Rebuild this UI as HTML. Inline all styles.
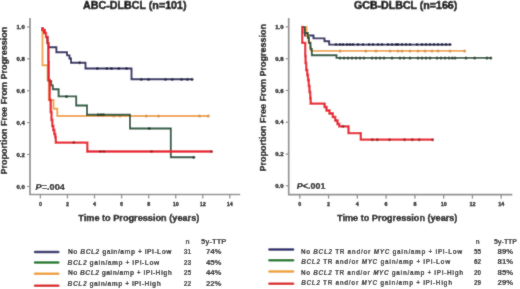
<!DOCTYPE html>
<html><head><meta charset="utf-8"><style>
html,body{margin:0;padding:0;background:#fff;width:520px;height:289px;overflow:hidden}
svg{display:block}
svg text{font-family:"Liberation Sans",sans-serif;stroke:#000;stroke-width:0.3px}
svg .lg text{stroke-width:0.05px}
svg text.tk{stroke-width:0.3px}
</style></head><body>
<svg width="520" height="289" viewBox="0 0 520 289">
<defs><filter id="bl" x="0" y="0" width="1" height="1"><feConvolveMatrix order="3" kernelMatrix="1 2 1 2 20 2 1 2 1" divisor="32" edgeMode="duplicate"/></filter></defs>
<rect width="520" height="289" fill="#fff"/>
<g filter="url(#bl)">
<rect width="520" height="289" fill="#fff"/>
<path d="M30,18 V194.5 H240.2" fill="none" stroke="#8e8e8e" stroke-width="1.7"/>
<line x1="27" y1="26.9" x2="30" y2="26.9" stroke="#8e8e8e" stroke-width="1.2"/>
<text x="24.8" y="29.0" font-size="6" font-weight="bold" text-anchor="end" fill="#000">1.0</text>
<line x1="27" y1="58.8" x2="30" y2="58.8" stroke="#8e8e8e" stroke-width="1.2"/>
<text x="24.8" y="60.9" font-size="6" font-weight="bold" text-anchor="end" fill="#000">0.8</text>
<line x1="27" y1="90.7" x2="30" y2="90.7" stroke="#8e8e8e" stroke-width="1.2"/>
<text x="24.8" y="92.8" font-size="6" font-weight="bold" text-anchor="end" fill="#000">0.6</text>
<line x1="27" y1="122.6" x2="30" y2="122.6" stroke="#8e8e8e" stroke-width="1.2"/>
<text x="24.8" y="124.69999999999999" font-size="6" font-weight="bold" text-anchor="end" fill="#000">0.4</text>
<line x1="27" y1="154.5" x2="30" y2="154.5" stroke="#8e8e8e" stroke-width="1.2"/>
<text x="24.8" y="156.6" font-size="6" font-weight="bold" text-anchor="end" fill="#000">0.2</text>
<line x1="27" y1="186.5" x2="30" y2="186.5" stroke="#8e8e8e" stroke-width="1.2"/>
<text x="24.8" y="188.6" font-size="6" font-weight="bold" text-anchor="end" fill="#000">0.0</text>
<line x1="40.4" y1="194.5" x2="40.4" y2="198.5" stroke="#8e8e8e" stroke-width="1.3"/>
<text x="40.4" y="205.5" font-size="5.4" font-weight="bold" text-anchor="middle" fill="#111" class="tk">0</text>
<line x1="67.46" y1="194.5" x2="67.46" y2="198.5" stroke="#8e8e8e" stroke-width="1.3"/>
<text x="67.46" y="205.5" font-size="5.4" font-weight="bold" text-anchor="middle" fill="#111" class="tk">2</text>
<line x1="94.52" y1="194.5" x2="94.52" y2="198.5" stroke="#8e8e8e" stroke-width="1.3"/>
<text x="94.52" y="205.5" font-size="5.4" font-weight="bold" text-anchor="middle" fill="#111" class="tk">4</text>
<line x1="121.57999999999998" y1="194.5" x2="121.57999999999998" y2="198.5" stroke="#8e8e8e" stroke-width="1.3"/>
<text x="121.57999999999998" y="205.5" font-size="5.4" font-weight="bold" text-anchor="middle" fill="#111" class="tk">6</text>
<line x1="148.64" y1="194.5" x2="148.64" y2="198.5" stroke="#8e8e8e" stroke-width="1.3"/>
<text x="148.64" y="205.5" font-size="5.4" font-weight="bold" text-anchor="middle" fill="#111" class="tk">8</text>
<line x1="175.7" y1="194.5" x2="175.7" y2="198.5" stroke="#8e8e8e" stroke-width="1.3"/>
<text x="175.7" y="205.5" font-size="5.4" font-weight="bold" text-anchor="middle" fill="#111" class="tk">10</text>
<line x1="202.76" y1="194.5" x2="202.76" y2="198.5" stroke="#8e8e8e" stroke-width="1.3"/>
<text x="202.76" y="205.5" font-size="5.4" font-weight="bold" text-anchor="middle" fill="#111" class="tk">12</text>
<line x1="229.82" y1="194.5" x2="229.82" y2="198.5" stroke="#8e8e8e" stroke-width="1.3"/>
<text x="229.82" y="205.5" font-size="5.4" font-weight="bold" text-anchor="middle" fill="#111" class="tk">14</text>
<path d="M288.7,18 V194.7 H512.3" fill="none" stroke="#8e8e8e" stroke-width="1.7"/>
<line x1="285.7" y1="26.9" x2="288.7" y2="26.9" stroke="#8e8e8e" stroke-width="1.2"/>
<text x="283.5" y="29.0" font-size="6" font-weight="bold" text-anchor="end" fill="#000">1.0</text>
<line x1="285.7" y1="58.7" x2="288.7" y2="58.7" stroke="#8e8e8e" stroke-width="1.2"/>
<text x="283.5" y="60.800000000000004" font-size="6" font-weight="bold" text-anchor="end" fill="#000">0.8</text>
<line x1="285.7" y1="90.5" x2="288.7" y2="90.5" stroke="#8e8e8e" stroke-width="1.2"/>
<text x="283.5" y="92.6" font-size="6" font-weight="bold" text-anchor="end" fill="#000">0.6</text>
<line x1="285.7" y1="122.3" x2="288.7" y2="122.3" stroke="#8e8e8e" stroke-width="1.2"/>
<text x="283.5" y="124.39999999999999" font-size="6" font-weight="bold" text-anchor="end" fill="#000">0.4</text>
<line x1="285.7" y1="154.1" x2="288.7" y2="154.1" stroke="#8e8e8e" stroke-width="1.2"/>
<text x="283.5" y="156.2" font-size="6" font-weight="bold" text-anchor="end" fill="#000">0.2</text>
<line x1="285.7" y1="185.8" x2="288.7" y2="185.8" stroke="#8e8e8e" stroke-width="1.2"/>
<text x="283.5" y="187.9" font-size="6" font-weight="bold" text-anchor="end" fill="#000">0.0</text>
<line x1="299.8" y1="194.7" x2="299.8" y2="198.7" stroke="#8e8e8e" stroke-width="1.3"/>
<text x="299.8" y="205.5" font-size="5.4" font-weight="bold" text-anchor="middle" fill="#111" class="tk">0</text>
<line x1="328.57" y1="194.7" x2="328.57" y2="198.7" stroke="#8e8e8e" stroke-width="1.3"/>
<text x="328.57" y="205.5" font-size="5.4" font-weight="bold" text-anchor="middle" fill="#111" class="tk">2</text>
<line x1="357.34000000000003" y1="194.7" x2="357.34000000000003" y2="198.7" stroke="#8e8e8e" stroke-width="1.3"/>
<text x="357.34000000000003" y="205.5" font-size="5.4" font-weight="bold" text-anchor="middle" fill="#111" class="tk">4</text>
<line x1="386.11" y1="194.7" x2="386.11" y2="198.7" stroke="#8e8e8e" stroke-width="1.3"/>
<text x="386.11" y="205.5" font-size="5.4" font-weight="bold" text-anchor="middle" fill="#111" class="tk">6</text>
<line x1="414.88" y1="194.7" x2="414.88" y2="198.7" stroke="#8e8e8e" stroke-width="1.3"/>
<text x="414.88" y="205.5" font-size="5.4" font-weight="bold" text-anchor="middle" fill="#111" class="tk">8</text>
<line x1="443.65" y1="194.7" x2="443.65" y2="198.7" stroke="#8e8e8e" stroke-width="1.3"/>
<text x="443.65" y="205.5" font-size="5.4" font-weight="bold" text-anchor="middle" fill="#111" class="tk">10</text>
<line x1="472.42" y1="194.7" x2="472.42" y2="198.7" stroke="#8e8e8e" stroke-width="1.3"/>
<text x="472.42" y="205.5" font-size="5.4" font-weight="bold" text-anchor="middle" fill="#111" class="tk">12</text>
<line x1="501.19" y1="194.7" x2="501.19" y2="198.7" stroke="#8e8e8e" stroke-width="1.3"/>
<text x="501.19" y="205.5" font-size="5.4" font-weight="bold" text-anchor="middle" fill="#111" class="tk">14</text>
<path d="M42.5,27 V65.3 H47.6 V80 H48.8 V100 H53.5 V108.7 H57.3 V116 H209.2" fill="none" stroke="#f0a445" stroke-width="1.9" stroke-linejoin="miter"/>
<circle cx="113.8" cy="116" r="1.5" fill="#d8933e"/>
<circle cx="120" cy="116" r="1.5" fill="#d8933e"/>
<circle cx="146.2" cy="116" r="1.5" fill="#d8933e"/>
<circle cx="158.5" cy="116" r="1.5" fill="#d8933e"/>
<circle cx="199.5" cy="116" r="1.5" fill="#d8933e"/>
<circle cx="208.2" cy="116" r="1.5" fill="#d8933e"/>
<path d="M42.5,27 V30 H44.5 V33 H46 V37 H47.5 V43 H48.3 V62 H48.6 V81 H51.2 V85.4 H52.8 V89.2 H58.6 V96.4 H76.2 V105.5 H87 V114.8 H130 V128.5 H170.8 V157.3 H193.8" fill="none" stroke="#1d5236" stroke-width="1.9" stroke-linejoin="miter"/>
<circle cx="66.5" cy="96.4" r="1.5" fill="#143b26"/>
<circle cx="98.2" cy="114.8" r="1.5" fill="#143b26"/>
<circle cx="101" cy="114.8" r="1.5" fill="#143b26"/>
<circle cx="103.5" cy="114.8" r="1.5" fill="#143b26"/>
<circle cx="149.2" cy="128.5" r="1.5" fill="#143b26"/>
<circle cx="193.8" cy="157.3" r="1.5" fill="#143b26"/>
<path d="M42.5,27 V30 H44.5 V33 H46 V37 H47.5 V43 H48.3 V47.3 H56.4 V52.3 H67 V55.4 H69.5 V58.5 H71 V62.8 H85.5 V68.5 H131.5 V79.2 H193" fill="none" stroke="#22215c" stroke-width="1.9" stroke-linejoin="miter"/>
<circle cx="79.6" cy="62.8" r="1.5" fill="#181742"/>
<circle cx="97.3" cy="68.5" r="1.5" fill="#181742"/>
<circle cx="106.9" cy="68.5" r="1.5" fill="#181742"/>
<circle cx="111.5" cy="68.5" r="1.5" fill="#181742"/>
<circle cx="118.8" cy="68.5" r="1.5" fill="#181742"/>
<circle cx="126.5" cy="68.5" r="1.5" fill="#181742"/>
<circle cx="141.2" cy="79.2" r="1.5" fill="#181742"/>
<circle cx="148.5" cy="79.2" r="1.5" fill="#181742"/>
<circle cx="165.4" cy="79.2" r="1.5" fill="#181742"/>
<circle cx="172.2" cy="79.2" r="1.5" fill="#181742"/>
<circle cx="181.5" cy="79.2" r="1.5" fill="#181742"/>
<circle cx="187.4" cy="79.2" r="1.5" fill="#181742"/>
<circle cx="192" cy="79.2" r="1.5" fill="#181742"/>
<path d="M42.5,27 V30 H44.5 V33 H46 V37 H47.5 V43 H48.3 V62 H48.7 V80 H49.7 V100 H50.7 V112 H51.5 V120 H52.3 V126 H53.3 V130 H54.3 V134 H55.2 V137 H55.8 V142.6 H87.3 V151.5 H211.5" fill="none" stroke="#e8222e" stroke-width="2.3" stroke-linejoin="miter"/>
<circle cx="73.8" cy="142.6" r="1.5" fill="#a71821"/>
<circle cx="100.4" cy="151.5" r="1.5" fill="#a71821"/>
<circle cx="103.9" cy="151.5" r="1.5" fill="#a71821"/>
<circle cx="151.5" cy="151.5" r="1.5" fill="#a71821"/>
<circle cx="211.5" cy="151.5" r="1.5" fill="#a71821"/>
<path d="M301.5,27 H305 V35.5 H313.5 V38.4 H324.5 V41.2 H329.2 V44.6 H450" fill="none" stroke="#22215c" stroke-width="1.9" stroke-linejoin="miter"/>
<circle cx="336" cy="44.6" r="1.5" fill="#181742"/>
<circle cx="340" cy="44.6" r="1.5" fill="#181742"/>
<circle cx="343" cy="44.6" r="1.5" fill="#181742"/>
<circle cx="347" cy="44.6" r="1.5" fill="#181742"/>
<circle cx="350" cy="44.6" r="1.5" fill="#181742"/>
<circle cx="353" cy="44.6" r="1.5" fill="#181742"/>
<circle cx="358" cy="44.6" r="1.5" fill="#181742"/>
<circle cx="363" cy="44.6" r="1.5" fill="#181742"/>
<circle cx="369" cy="44.6" r="1.5" fill="#181742"/>
<circle cx="373" cy="44.6" r="1.5" fill="#181742"/>
<circle cx="378" cy="44.6" r="1.5" fill="#181742"/>
<circle cx="382" cy="44.6" r="1.5" fill="#181742"/>
<circle cx="388" cy="44.6" r="1.5" fill="#181742"/>
<circle cx="392" cy="44.6" r="1.5" fill="#181742"/>
<circle cx="396" cy="44.6" r="1.5" fill="#181742"/>
<circle cx="398" cy="44.6" r="1.5" fill="#181742"/>
<circle cx="402" cy="44.6" r="1.5" fill="#181742"/>
<circle cx="406" cy="44.6" r="1.5" fill="#181742"/>
<circle cx="410" cy="44.6" r="1.5" fill="#181742"/>
<circle cx="417" cy="44.6" r="1.5" fill="#181742"/>
<circle cx="422" cy="44.6" r="1.5" fill="#181742"/>
<circle cx="426" cy="44.6" r="1.5" fill="#181742"/>
<circle cx="430" cy="44.6" r="1.5" fill="#181742"/>
<circle cx="434" cy="44.6" r="1.5" fill="#181742"/>
<circle cx="438" cy="44.6" r="1.5" fill="#181742"/>
<circle cx="442" cy="44.6" r="1.5" fill="#181742"/>
<circle cx="446" cy="44.6" r="1.5" fill="#181742"/>
<circle cx="450" cy="44.6" r="1.5" fill="#181742"/>
<path d="M301.5,27 H306.5 V36 H308.5 V42 H310 V47 H311 V50.9 H464.6" fill="none" stroke="#f0a445" stroke-width="1.9" stroke-linejoin="miter"/>
<circle cx="340" cy="50.9" r="1.5" fill="#d8933e"/>
<circle cx="365.8" cy="50.9" r="1.5" fill="#d8933e"/>
<circle cx="376" cy="50.9" r="1.5" fill="#d8933e"/>
<circle cx="390" cy="50.9" r="1.5" fill="#d8933e"/>
<circle cx="398" cy="50.9" r="1.5" fill="#d8933e"/>
<circle cx="402" cy="50.9" r="1.5" fill="#d8933e"/>
<circle cx="410" cy="50.9" r="1.5" fill="#d8933e"/>
<circle cx="418" cy="50.9" r="1.5" fill="#d8933e"/>
<circle cx="425" cy="50.9" r="1.5" fill="#d8933e"/>
<circle cx="432" cy="50.9" r="1.5" fill="#d8933e"/>
<circle cx="438" cy="50.9" r="1.5" fill="#d8933e"/>
<circle cx="450" cy="50.9" r="1.5" fill="#d8933e"/>
<circle cx="464.6" cy="50.9" r="1.5" fill="#d8933e"/>
<path d="M301.5,27 H304.5 V33 H307.8 V38 H309 V43 H310.5 V49 H311.8 V55.3 H336.5 V57.9 H490.8" fill="none" stroke="#1d5236" stroke-width="1.9" stroke-linejoin="miter"/>
<circle cx="340" cy="57.9" r="1.5" fill="#143b26"/>
<circle cx="344" cy="57.9" r="1.5" fill="#143b26"/>
<circle cx="348" cy="57.9" r="1.5" fill="#143b26"/>
<circle cx="352" cy="57.9" r="1.5" fill="#143b26"/>
<circle cx="356" cy="57.9" r="1.5" fill="#143b26"/>
<circle cx="360" cy="57.9" r="1.5" fill="#143b26"/>
<circle cx="364" cy="57.9" r="1.5" fill="#143b26"/>
<circle cx="372" cy="57.9" r="1.5" fill="#143b26"/>
<circle cx="376" cy="57.9" r="1.5" fill="#143b26"/>
<circle cx="380" cy="57.9" r="1.5" fill="#143b26"/>
<circle cx="384" cy="57.9" r="1.5" fill="#143b26"/>
<circle cx="392" cy="57.9" r="1.5" fill="#143b26"/>
<circle cx="400" cy="57.9" r="1.5" fill="#143b26"/>
<circle cx="404" cy="57.9" r="1.5" fill="#143b26"/>
<circle cx="410" cy="57.9" r="1.5" fill="#143b26"/>
<circle cx="418" cy="57.9" r="1.5" fill="#143b26"/>
<circle cx="422" cy="57.9" r="1.5" fill="#143b26"/>
<circle cx="426" cy="57.9" r="1.5" fill="#143b26"/>
<circle cx="430" cy="57.9" r="1.5" fill="#143b26"/>
<circle cx="437" cy="57.9" r="1.5" fill="#143b26"/>
<circle cx="441" cy="57.9" r="1.5" fill="#143b26"/>
<circle cx="445" cy="57.9" r="1.5" fill="#143b26"/>
<circle cx="449" cy="57.9" r="1.5" fill="#143b26"/>
<circle cx="452.3" cy="57.9" r="1.5" fill="#143b26"/>
<circle cx="455" cy="57.9" r="1.5" fill="#143b26"/>
<circle cx="466" cy="57.9" r="1.5" fill="#143b26"/>
<circle cx="474.6" cy="57.9" r="1.5" fill="#143b26"/>
<circle cx="487" cy="57.9" r="1.5" fill="#143b26"/>
<circle cx="490.8" cy="57.9" r="1.5" fill="#143b26"/>
<path d="M301.5,27 H302.2 V42.8 H305.2 V56 H305.6 V63 H306.2 V70 H307.2 V75 H308 V80 H308.8 V86 H309.5 V92 H310.2 V98 H310.7 V103.7 H324.6 V107 H326.5 V110.5 H329.5 V113.5 H332.8 V117 H335.2 V120.5 H337.5 V124 H339.2 V126.4 H348.5 V133.1 H360.8 V139.7 H432.6" fill="none" stroke="#e8222e" stroke-width="2.3" stroke-linejoin="miter"/>
<circle cx="343" cy="126.2" r="1.5" fill="#a71821"/>
<circle cx="372.3" cy="139.7" r="1.5" fill="#a71821"/>
<circle cx="377.2" cy="139.7" r="1.5" fill="#a71821"/>
<circle cx="389.5" cy="139.7" r="1.5" fill="#a71821"/>
<circle cx="404.6" cy="139.7" r="1.5" fill="#a71821"/>
<circle cx="412.3" cy="139.7" r="1.5" fill="#a71821"/>
<circle cx="419.2" cy="139.7" r="1.5" fill="#a71821"/>
<circle cx="432.6" cy="139.7" r="1.5" fill="#a71821"/>
<text x="83.0" y="8.8" font-size="10.1" font-weight="bold" text-anchor="start" fill="#000" textLength="103.6" lengthAdjust="spacingAndGlyphs" style="stroke-width:0.5px">ABC-DLBCL (n=101)</text>
<text x="354.0" y="8.8" font-size="10.1" font-weight="bold" text-anchor="start" fill="#000" textLength="103.3" lengthAdjust="spacingAndGlyphs" style="stroke-width:0.5px">GCB-DLBCL (n=166)</text>
<text transform="translate(7.2,174.6) rotate(-90)" font-size="8.4" font-weight="bold" fill="#000" textLength="147.8" lengthAdjust="spacingAndGlyphs">Proportion Free From Progression</text>
<text transform="translate(265.9,171.4) rotate(-90)" font-size="8.4" font-weight="bold" fill="#000" textLength="147.3" lengthAdjust="spacingAndGlyphs">Proportion Free From Progression</text>
<text x="78.3" y="221" font-size="9.1" font-weight="bold" text-anchor="start" fill="#000" textLength="121" lengthAdjust="spacingAndGlyphs">Time to Progression (years)</text>
<text x="337.1" y="220.7" font-size="9.1" font-weight="bold" text-anchor="start" fill="#000" textLength="120.3" lengthAdjust="spacingAndGlyphs">Time to Progression (years)</text>
<text x="35.6" y="190.4" font-size="9.2" font-weight="bold" text-anchor="start" fill="#000" textLength="29.2" lengthAdjust="spacingAndGlyphs" style="stroke-width:0.2px"><tspan font-style="italic">P</tspan>=.004</text>
<text x="296.8" y="189.1" font-size="9.0" font-weight="bold" text-anchor="start" fill="#000" textLength="28.6" lengthAdjust="spacingAndGlyphs" style="stroke-width:0.2px"><tspan font-style="italic">P</tspan>&lt;.001</text>
<g class="lg">
<line x1="35.0" y1="252.1" x2="58.3" y2="252.1" stroke="#29286e" stroke-width="2.5" stroke-linecap="round"/>
<line x1="35.0" y1="262.4" x2="58.3" y2="262.4" stroke="#1a7c27" stroke-width="2.5" stroke-linecap="round"/>
<line x1="35.0" y1="273.8" x2="58.3" y2="273.8" stroke="#eea234" stroke-width="2.5" stroke-linecap="round"/>
<line x1="35.0" y1="285.8" x2="58.3" y2="285.8" stroke="#dc2222" stroke-width="2.5" stroke-linecap="round"/>
<text x="187.6" y="244.0" font-size="6.7" font-weight="bold" text-anchor="middle" fill="#000">n</text>
<text x="201.1" y="244.0" font-size="6.7" font-weight="bold" text-anchor="start" fill="#000" textLength="25.2" lengthAdjust="spacingAndGlyphs">5y-TTP</text>
<text x="68.0" y="254.2" font-size="6.7" font-weight="bold" text-anchor="start" fill="#000" textLength="103.5" lengthAdjust="spacing">No <tspan font-style="italic">BCL2</tspan> gain/amp + IPI-Low</text>
<text x="187.6" y="254.2" font-size="6.7" font-weight="bold" text-anchor="middle" fill="#000">31</text>
<text x="205.89999999999998" y="254.2" font-size="6.7" font-weight="bold" text-anchor="start" fill="#000" textLength="15.6" lengthAdjust="spacingAndGlyphs">74%</text>
<text x="67.6" y="264.5" font-size="6.7" font-weight="bold" text-anchor="start" fill="#000" textLength="91.7" lengthAdjust="spacing"><tspan font-style="italic">BCL2</tspan> gain/amp + IPI-Low</text>
<text x="187.6" y="264.5" font-size="6.7" font-weight="bold" text-anchor="middle" fill="#000">23</text>
<text x="205.89999999999998" y="264.5" font-size="6.7" font-weight="bold" text-anchor="start" fill="#000" textLength="15.6" lengthAdjust="spacingAndGlyphs">45%</text>
<text x="68.0" y="275.3" font-size="6.7" font-weight="bold" text-anchor="start" fill="#000" textLength="103.8" lengthAdjust="spacing">No <tspan font-style="italic">BCL2</tspan> gain/amp + IPI-High</text>
<text x="187.6" y="275.3" font-size="6.7" font-weight="bold" text-anchor="middle" fill="#000">25</text>
<text x="205.89999999999998" y="275.3" font-size="6.7" font-weight="bold" text-anchor="start" fill="#000" textLength="15.6" lengthAdjust="spacingAndGlyphs">44%</text>
<text x="67.6" y="285.8" font-size="6.7" font-weight="bold" text-anchor="start" fill="#000" textLength="93.2" lengthAdjust="spacing"><tspan font-style="italic">BCL2</tspan> gain/amp + IPI-High</text>
<text x="187.6" y="285.8" font-size="6.7" font-weight="bold" text-anchor="middle" fill="#000">22</text>
<text x="205.89999999999998" y="285.8" font-size="6.7" font-weight="bold" text-anchor="start" fill="#000" textLength="15.6" lengthAdjust="spacingAndGlyphs">22%</text>
</g>
<g class="lg">
<line x1="269.4" y1="249.6" x2="293.1" y2="249.6" stroke="#29286e" stroke-width="2.5" stroke-linecap="round"/>
<line x1="269.4" y1="260.3" x2="293.1" y2="260.3" stroke="#1a7c27" stroke-width="2.5" stroke-linecap="round"/>
<line x1="269.4" y1="271.6" x2="293.1" y2="271.6" stroke="#eea234" stroke-width="2.5" stroke-linecap="round"/>
<line x1="269.4" y1="283.7" x2="293.1" y2="283.7" stroke="#dc2222" stroke-width="2.5" stroke-linecap="round"/>
<text x="477.6" y="243.8" font-size="6.4" font-weight="bold" text-anchor="middle" fill="#000">n</text>
<text x="494.0" y="243.8" font-size="6.4" font-weight="bold" text-anchor="start" fill="#000" textLength="22.8" lengthAdjust="spacingAndGlyphs">5y-TTP</text>
<text x="300.9" y="254.2" font-size="6.4" font-weight="bold" text-anchor="start" fill="#000" textLength="161.4" lengthAdjust="spacing">No <tspan font-style="italic">BCL2</tspan> TR and/or <tspan font-style="italic">MYC</tspan> gain/amp + IPI-Low</text>
<text x="477.6" y="254.2" font-size="6.4" font-weight="bold" text-anchor="middle" fill="#000">55</text>
<text x="497.59999999999997" y="254.2" font-size="6.4" font-weight="bold" text-anchor="start" fill="#000" textLength="15.6" lengthAdjust="spacingAndGlyphs">89%</text>
<text x="301.2" y="264.0" font-size="6.4" font-weight="bold" text-anchor="start" fill="#000" textLength="149.0" lengthAdjust="spacing"><tspan font-style="italic">BCL2</tspan> TR and/or <tspan font-style="italic">MYC</tspan> gain/amp + IPI-Low</text>
<text x="477.6" y="264.0" font-size="6.4" font-weight="bold" text-anchor="middle" fill="#000">62</text>
<text x="497.59999999999997" y="264.0" font-size="6.4" font-weight="bold" text-anchor="start" fill="#000" textLength="15.6" lengthAdjust="spacingAndGlyphs">81%</text>
<text x="300.9" y="275.0" font-size="6.4" font-weight="bold" text-anchor="start" fill="#000" textLength="162.2" lengthAdjust="spacing">No <tspan font-style="italic">BCL2</tspan> TR and/or <tspan font-style="italic">MYC</tspan> gain/amp + IPI-High</text>
<text x="477.6" y="275.0" font-size="6.4" font-weight="bold" text-anchor="middle" fill="#000">20</text>
<text x="497.59999999999997" y="275.0" font-size="6.4" font-weight="bold" text-anchor="start" fill="#000" textLength="15.6" lengthAdjust="spacingAndGlyphs">85%</text>
<text x="301.2" y="285.2" font-size="6.4" font-weight="bold" text-anchor="start" fill="#000" textLength="150.9" lengthAdjust="spacing"><tspan font-style="italic">BCL2</tspan> TR and/or <tspan font-style="italic">MYC</tspan> gain/amp + IPI-High</text>
<text x="477.6" y="285.2" font-size="6.4" font-weight="bold" text-anchor="middle" fill="#000">29</text>
<text x="497.59999999999997" y="285.2" font-size="6.4" font-weight="bold" text-anchor="start" fill="#000" textLength="15.6" lengthAdjust="spacingAndGlyphs">29%</text>
</g>
</g>
</svg>
</body></html>
